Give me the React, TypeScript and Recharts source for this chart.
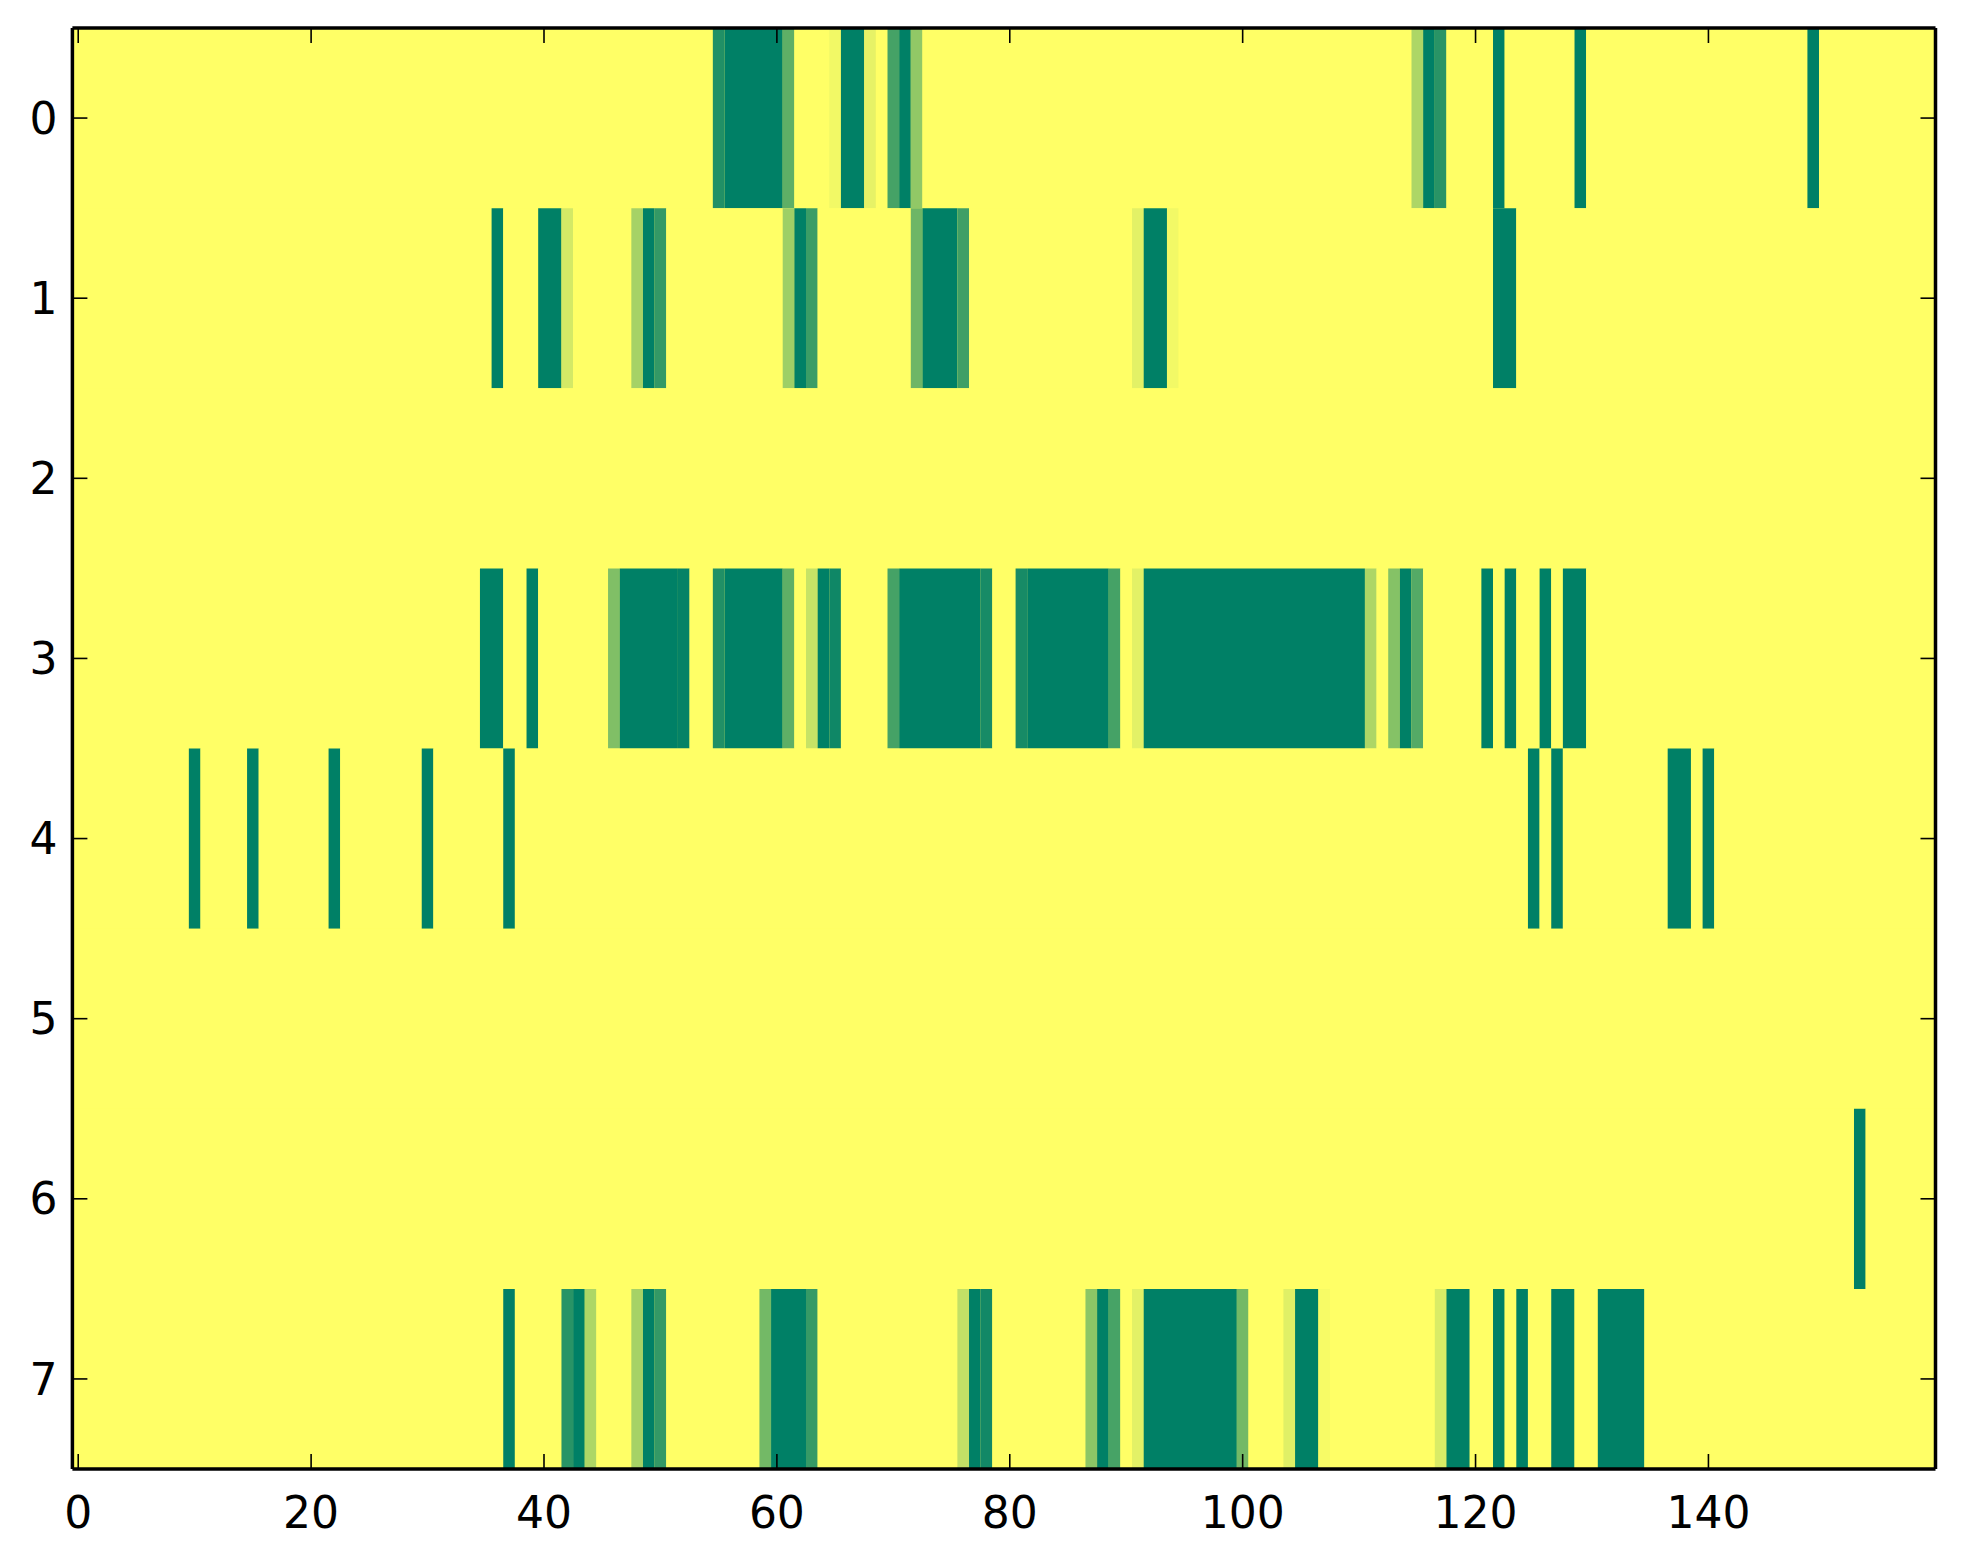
import React from 'react'
import { ComposedChart, XAxis, YAxis, ReferenceArea, CartesianGrid, Scatter } from 'recharts'

// [first column, last column, value]; every cell not listed is 1 (yellow)
type Run = [number, number, number]

const nCols = 160
const rowIds = [0, 1, 2, 3, 4, 5, 6, 7]
const xTicks = [0, 20, 40, 60, 80, 100, 120, 140]

const row0: Run[] = [
  [55, 55, 0.13], [56, 60, 0], [61, 61, 0.37], [65, 65, 0.95], [66, 67, 0], [68, 68, 0.9],
  [70, 70, 0.27], [71, 71, 0], [72, 72, 0.57], [115, 115, 0.68], [116, 116, 0], [117, 117, 0.16],
  [122, 122, 0], [129, 129, 0], [149, 149, 0],
]
const row1: Run[] = [
  [36, 36, 0], [40, 41, 0], [42, 42, 0.83], [48, 48, 0.65], [49, 49, 0], [50, 50, 0.2],
  [61, 61, 0.62], [62, 62, 0], [63, 63, 0.23], [72, 72, 0.43], [73, 75, 0], [76, 76, 0.25],
  [91, 91, 0.89], [92, 93, 0], [94, 94, 0.95], [122, 123, 0],
]
const row2: Run[] = []
const row3: Run[] = [
  [35, 36, 0], [39, 39, 0], [46, 46, 0.5], [47, 51, 0], [52, 52, 0.02], [55, 55, 0.13],
  [56, 60, 0], [61, 61, 0.37], [63, 63, 0.78], [64, 64, 0], [65, 65, 0.06], [70, 70, 0.27],
  [71, 77, 0], [78, 78, 0.09], [81, 81, 0.09], [82, 88, 0], [89, 89, 0.27], [91, 91, 0.89],
  [92, 110, 0], [111, 111, 0.68], [113, 113, 0.52], [114, 114, 0], [115, 115, 0.33],
  [121, 121, 0], [123, 123, 0], [126, 126, 0], [128, 129, 0],
]
const row4: Run[] = [
  [10, 10, 0], [15, 15, 0], [22, 22, 0], [30, 30, 0], [37, 37, 0],
  [125, 125, 0], [127, 127, 0], [137, 138, 0], [140, 140, 0],
]
const row5: Run[] = []
const row6: Run[] = [[153, 153, 0]]
const row7: Run[] = [
  [37, 37, 0], [42, 42, 0.16], [43, 43, 0], [44, 44, 0.68], [48, 48, 0.65], [49, 49, 0],
  [50, 50, 0.2], [59, 59, 0.45], [60, 62, 0], [63, 63, 0.21], [76, 76, 0.76], [77, 77, 0],
  [78, 78, 0.07], [87, 87, 0.55], [88, 88, 0], [89, 89, 0.28], [91, 91, 0.89], [92, 99, 0],
  [100, 100, 0.45], [104, 104, 0.88], [105, 106, 0], [107, 107, 0.97], [117, 117, 0.85],
  [118, 119, 0], [122, 122, 0], [124, 124, 0], [127, 128, 0], [131, 134, 0],
]
const rows = [row0, row1, row2, row3, row4, row5, row6, row7]

// matplotlib "summer" colormap
const summer = (v: number) =>
  `rgb(${Math.round(255 * v)}, ${Math.round(255 * (0.5 + 0.5 * v))}, 102)`

// expand a row and merge equal neighbours into spans
function spans(runs: Run[]) {
  const vals: number[] = new Array(nCols).fill(1)
  runs.forEach(([a, b, v]) => { for (let c = a; c <= b; c++) vals[c] = v })
  const out: { x1: number; x2: number; v: number }[] = []
  let start = 0
  for (let c = 1; c <= nCols; c++) {
    if (c === nCols || vals[c] !== vals[start]) {
      out.push({ x1: start - 0.5, x2: c - 0.5, v: vals[start] })
      start = c
    }
  }
  return out
}

const cells = rows.flatMap((runs, r) =>
  spans(runs).map(s => ({ ...s, y: r, x: (s.x1 + s.x2) / 2 }))
)

const font = { fontFamily: 'DejaVu Sans', fontSize: 44, fill: '#000' }
const spine = { stroke: '#000', strokeWidth: 3.5 }
const tickLn = { stroke: '#000', strokeWidth: 1.6 }

export default function App() {
  return (
    <ComposedChart width={1947} height={1548} margin={{ top: 20, right: 19.5, bottom: 0, left: 0 }}>
      <CartesianGrid horizontal={false} vertical={false} fill="#ffff66" />
      <XAxis
        type="number" dataKey="x" xAxisId={0} domain={[-0.5, nCols - 0.5]} allowDataOverflow
        ticks={xTicks} interval={0} height={87}
        tick={font} axisLine={spine} tickLine={tickLn} tickSize={-15} tickMargin={43}
      />
      <XAxis
        type="number" dataKey="x" xAxisId="top" orientation="top" mirror domain={[-0.5, nCols - 0.5]}
        allowDataOverflow ticks={xTicks} interval={0} height={1}
        tickFormatter={() => ''} axisLine={spine} tickLine={tickLn} tickSize={15}
      />
      <YAxis
        type="number" dataKey="y" yAxisId={0} domain={[-0.5, 7.5]} reversed allowDataOverflow
        ticks={rowIds} interval={0} width={64.4}
        tick={font} axisLine={spine} tickLine={tickLn} tickSize={-15} tickMargin={30}
      />
      <YAxis
        type="number" dataKey="y" yAxisId="right" orientation="right" mirror domain={[-0.5, 7.5]}
        reversed allowDataOverflow ticks={rowIds} interval={0} width={1}
        tickFormatter={() => ''} axisLine={spine} tickLine={tickLn} tickSize={15}
      />
      {cells.map((s, i) => (
        <ReferenceArea
          key={i}
          xAxisId={0} yAxisId={0}
          x1={s.x1} x2={s.x2} y1={s.y - 0.5} y2={s.y + 0.5}
          fill={summer(s.v)} fillOpacity={1} stroke="none"
        />
      ))}
      <Scatter
        data={cells} dataKey="y" xAxisId={0} yAxisId={0}
        shape={() => <g />} isAnimationActive={false}
      />
    </ComposedChart>
  )
}
